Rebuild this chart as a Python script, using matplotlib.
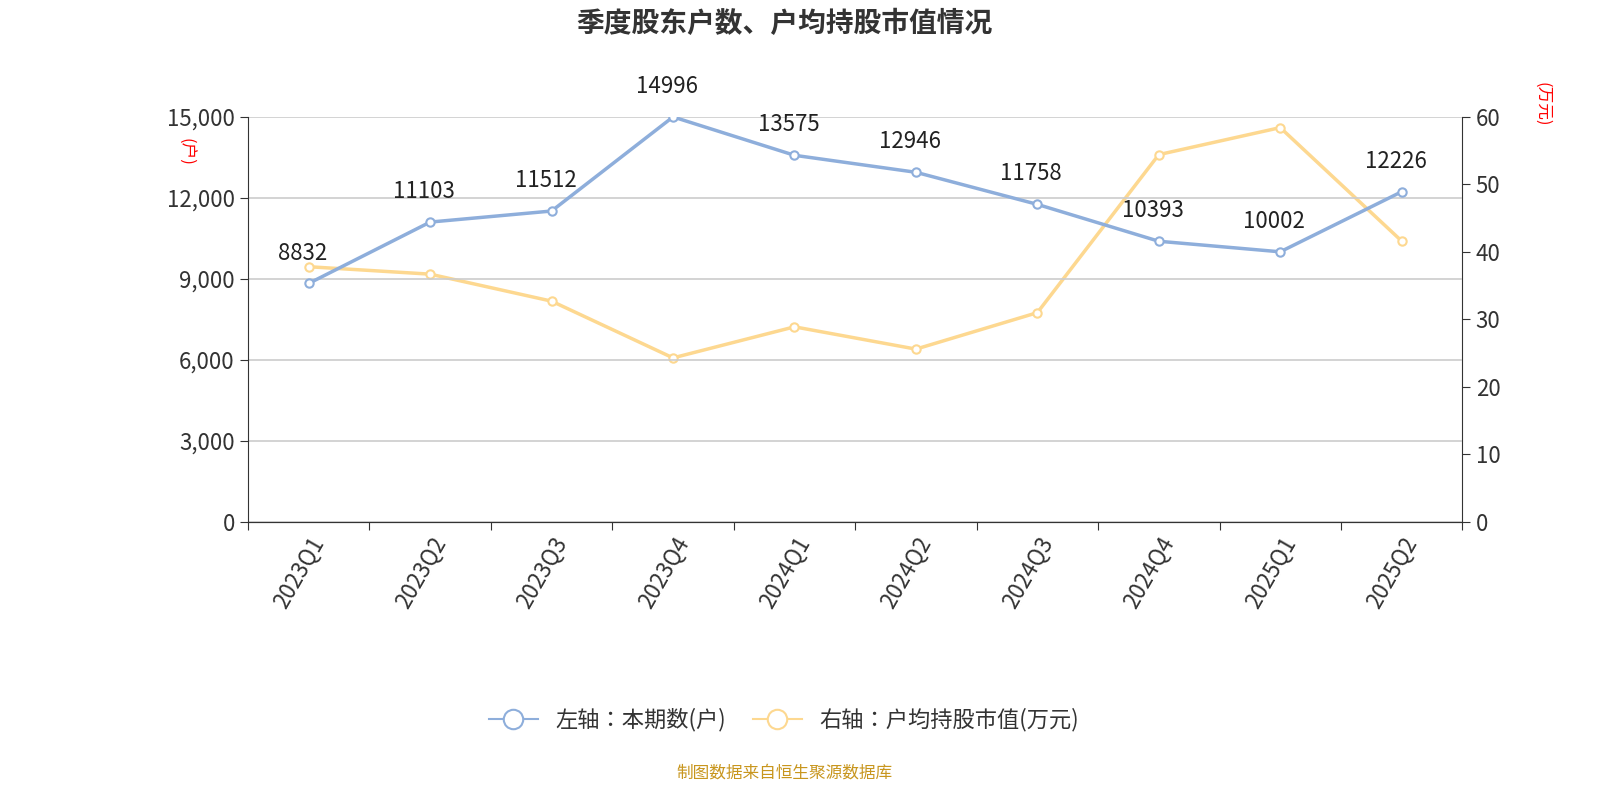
import matplotlib.pyplot as plt
from matplotlib.lines import Line2D

plt.rcParams["font.family"] = ["Noto Sans CJK SC", "Noto Sans CJK JP", "Noto Sans CJK TC",
                               "Noto Sans CJK KR", "DejaVu Sans"]

quarters = ["2023Q1", "2023Q2", "2023Q3", "2023Q4", "2024Q1", "2024Q2",
            "2024Q3", "2024Q4", "2025Q1", "2025Q2"]
holders = [8832, 11103, 11512, 14996, 13575, 12946, 11758, 10393, 10002, 12226]
avg_value = [37.8, 36.7, 32.7, 24.3, 28.9, 25.6, 31.0, 54.4, 58.4, 41.6]

BLUE = "#8eaedb"
YELLOW = "#fdd890"

fig = plt.figure(figsize=(16, 8), dpi=100)
ax = fig.add_axes([0.155, 0.3475, 0.759, 0.5065])
ax2 = ax.twinx()

x = list(range(len(quarters)))
ax.plot(x, holders, color=BLUE, lw=2.5, marker="o", ms=6, mfc="white", mec=BLUE, mew=1.5, zorder=3)
ax2.plot(x, avg_value, color=YELLOW, lw=2.5, marker="o", ms=6, mfc="white", mec=YELLOW, mew=1.5, zorder=3)
ax.set_zorder(ax2.get_zorder() + 1)
ax.patch.set_visible(False)

for i, v in enumerate(holders):
    ax.text(i - 0.05, v + 700, str(v), ha="center", va="bottom", fontsize=16, color="#222222")

ax.set_xlim(-0.5, len(quarters) - 0.5)
ax.set_ylim(0, 15000)
ax2.set_ylim(0, 60)
ax.set_yticks(range(0, 15001, 3000))
ax.set_yticklabels([f"{v:,}" for v in range(0, 15001, 3000)])
ax2.set_yticks(range(0, 61, 10))
ax.grid(axis="y", color="#cccccc", lw=1.2)
ax.set_xticks([i - 0.5 for i in range(len(quarters) + 1)], minor=False)
ax.set_xticklabels([])
ax.set_xticks(x, minor=True)
ax.set_xticklabels(quarters, minor=True, rotation=60, ha="right", rotation_mode="anchor", fontsize=16, color="#333333")
ax.tick_params(axis="x", which="minor", length=0, pad=8)
ax.tick_params(axis="x", which="major", length=6, color="#333333")
ax.tick_params(axis="y", labelsize=16, colors="#333333", length=6)
ax2.tick_params(axis="y", labelsize=16, colors="#333333", length=6)
for a in (ax, ax2):
    a.spines["top"].set_visible(False)
    for s in ("left", "right", "bottom"):
        a.spines[s].set_color("#333333")
ax.spines["right"].set_visible(False)
ax2.spines["left"].set_visible(False)

fig.text(0.116, 0.81, "(户)", rotation=-90, color="red", fontsize=12, ha="center", va="center")
fig.text(0.964, 0.87, "(万元)", rotation=-90, color="red", fontsize=12, ha="center", va="center")

fig.text(0.49, 0.97, "季度股东户数、户均持股市值情况", ha="center", va="center",
         fontsize=20, fontweight="bold", color="#333333")

handles = [
    Line2D([], [], color=BLUE, lw=1.5, marker="o", ms=14, mfc="white", mec=BLUE, mew=1.5),
    Line2D([], [], color=YELLOW, lw=1.5, marker="o", ms=14, mfc="white", mec=YELLOW, mew=1.5),
]
fig.legend(handles, ["左轴：本期数(户)", "右轴：户均持股市值(万元)"], loc="center",
           bbox_to_anchor=(0.49, 0.1), ncol=2, frameon=False, fontsize=16,
           handlelength=2.2, columnspacing=1.2, labelcolor="#333333")

fig.text(0.49, 0.034, "制图数据来自恒生聚源数据库", ha="center", va="center", fontsize=12, color="#c8961e")

fig.savefig("out.png", dpi=100)
